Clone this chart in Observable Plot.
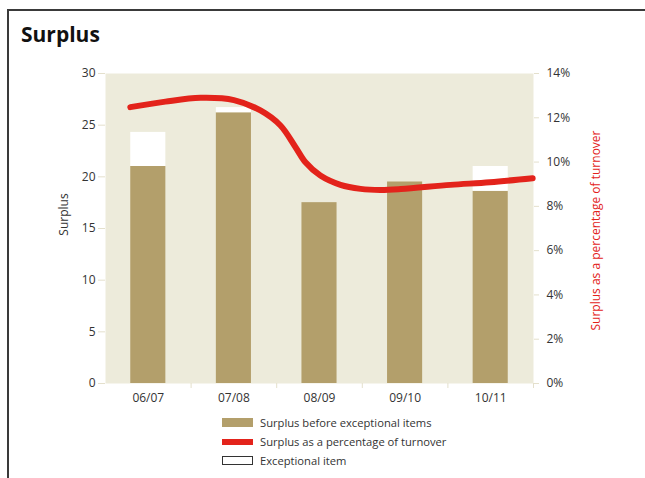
<!DOCTYPE html>
<html><head><meta charset="utf-8">
<script src="https://cdn.jsdelivr.net/npm/d3@7"></script>
<script src="https://cdn.jsdelivr.net/npm/@observablehq/plot@0.6"></script>
<style>
body{margin:0;background:#fff;font-family:"Open Sans",sans-serif;}
#wrap{position:relative;width:645px;height:478px;overflow:hidden;}
#frame{position:absolute;left:7px;top:9px;width:700px;height:500px;border-left:2px solid #3a3a3a;border-top:2px solid #3a3a3a;}
#title{position:absolute;left:21px;top:20px;font-size:21px;font-weight:700;color:#111;}
#legend{position:absolute;left:222px;top:413px;font-size:11.2px;color:#333;}
.row{display:flex;align-items:center;height:19px;}
.sw{width:31px;margin-right:7px;box-sizing:border-box;}
#chart{position:absolute;left:0;top:0;}
</style></head>
<body>
<div id="wrap">
  <div id="frame"></div>
  <div id="title">Surplus</div>
  <div id="chart"></div>
  <div id="legend">
    <div class="row"><div class="sw" style="height:9px;background:#b39f6b"></div>Surplus before exceptional items</div>
    <div class="row"><div class="sw" style="height:6px;background:#e3231b"></div>Surplus as a percentage of turnover</div>
    <div class="row"><div class="sw" style="height:9px;border:1px solid #333;background:#fff"></div>Exceptional item</div>
  </div>
</div>
<script>
const categories = ["06/07","07/08","08/09","09/10","10/11"];
const surplusBefore = [21.0, 26.2, 17.5, 19.5, 18.6];
const exceptionalItem = [3.3, 0.5, 0, 0, 2.4];
const leftTicks = [0,5,10,15,20,25,30];
const pctTicks = [0,2,4,6,8,10,12,14];
// smoothed line, positions in category-index units
const linePos = [-0.21, 0.2, 0.61, 1.0, 1.31, 1.544, 1.72, 1.836, 2.01, 2.245, 2.48, 2.71, 2.95, 3.53, 3.99, 4.49];
const linePct = [12.48, 12.73, 12.90, 12.8, 12.33, 11.65, 10.67, 9.99, 9.39, 8.97, 8.79, 8.74, 8.78, 8.97, 9.09, 9.27];

const yMax = 30, pMax = 14;
const toY = p => p * yMax / pMax;
const half = 0.205;
const bars = categories.map((c,i)=>({i, base: surplusBefore[i], exc: exceptionalItem[i]}));
const line = linePos.map((x,k)=>({x, y: toY(linePct[k])}));
const beige = "#e4e0cc";

const chart = Plot.plot({
  width: 645, height: 478,
  marginLeft: 105, marginRight: 112, marginTop: 73, marginBottom: 95,
  style: {fontFamily: "Open Sans, sans-serif", fontSize: "12px", color: "#333", background: "transparent"},
  x: {type: "linear", domain: [-0.5, 4.5]},
  y: {domain: [0, yMax]},
  marks: [
    Plot.frame({fill: "#edebdb", stroke: null}),
    Plot.rectY(bars, {x1: d=>d.i-half, x2: d=>d.i+half, y1: 0, y2: d=>d.base, fill: "#b39f6b"}),
    Plot.rectY(bars.filter(d=>d.exc>0), {x1: d=>d.i-half, x2: d=>d.i+half, y1: d=>d.base, y2: d=>d.base+d.exc, fill: "#ffffff"}),
    Plot.line(line, {x: "x", y: "y", stroke: "#e3231b", strokeWidth: 6, curve: "catmull-rom"}),
    Plot.axisY(leftTicks, {anchor: "left", tickSize: 7, tickPadding: 3, stroke: beige, color: "#333", label: null, fontSize: 12}),
    Plot.axisY(pctTicks.map(toY), {anchor: "right", tickSize: 5, tickPadding: 8, stroke: beige, color: "#333", label: null, tickFormat: d => Math.round(d*pMax/yMax) + "%", fontSize: 12}),
    Plot.axisX([0.5,1.5,2.5,3.5,4.5], {tickSize: 5, stroke: beige, tickFormat: () => "", label: null}),
    Plot.axisX([0,1,2,3,4], {tickSize: 0, tickPadding: 10, tickFormat: i => categories[i], label: null, fontSize: 12, fill: "#333"}),
    Plot.text(["Surplus"], {frameAnchor: "left", textAnchor: "middle", dx: -41, dy: -14, rotate: -90, fontSize: 12, fill: "#333"}),
    Plot.text(["Surplus as a percentage of turnover"], {frameAnchor: "right", textAnchor: "middle", dx: 63, dy: 2, rotate: -90, fontSize: 12, fill: "#e3231b"})
  ]
});
document.getElementById("chart").appendChild(chart);
</script>
</body></html>
